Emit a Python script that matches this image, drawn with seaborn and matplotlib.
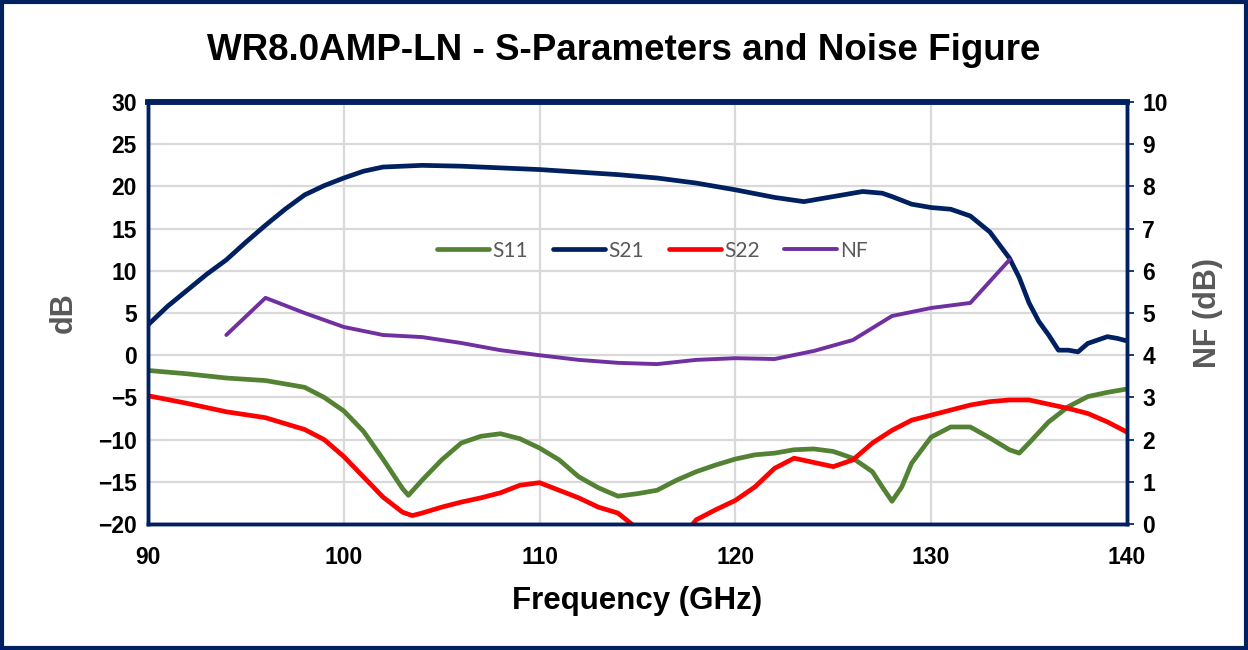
import numpy as np
import pandas as pd
import matplotlib
matplotlib.use("Agg")
import matplotlib.pyplot as plt
import seaborn as sns

# S-parameter curves (GHz, dB)
freq_s21 = [90, 91, 92, 93, 94, 95, 96, 97, 98, 99, 100, 101, 102, 103, 104, 106, 108, 110,
            112, 114, 116, 118, 120, 122, 123.5, 125, 126.5, 127.5, 128, 129, 130, 131, 132,
            133, 134, 134.5, 135, 135.5, 136, 136.5, 137, 137.5, 138, 138.5, 139, 139.5, 140]
s21 = [3.6, 5.8, 7.7, 9.6, 11.3, 13.4, 15.4, 17.3, 19.0, 20.1, 21.0, 21.8, 22.3, 22.4, 22.5,
       22.4, 22.2, 22.0, 21.7, 21.4, 21.0, 20.4, 19.6, 18.7, 18.2, 18.8, 19.4, 19.2, 18.8,
       17.9, 17.5, 17.3, 16.5, 14.6, 11.5, 9.2, 6.2, 4.0, 2.4, 0.6, 0.6, 0.4, 1.4, 1.8, 2.2,
       2.0, 1.7]

freq_s11 = [90, 92, 94, 96, 98, 99, 100, 101, 102, 103, 103.3, 104, 105, 106, 107, 108, 109,
            110, 111, 112, 113, 114, 115, 116, 117, 118, 119, 120, 121, 122, 123, 124, 125,
            126, 127, 127.5, 128, 128.5, 129, 130, 131, 132, 133, 134, 134.5, 135, 136, 137,
            138, 139, 140]
s11 = [-1.8, -2.2, -2.7, -3.0, -3.8, -5.0, -6.6, -9.0, -12.3, -15.8, -16.6, -14.8, -12.4,
       -10.4, -9.6, -9.3, -9.9, -11.0, -12.4, -14.4, -15.7, -16.7, -16.4, -16.0, -14.8,
       -13.8, -13.0, -12.3, -11.8, -11.6, -11.2, -11.1, -11.4, -12.2, -13.8, -15.6, -17.3,
       -15.6, -12.8, -9.7, -8.5, -8.5, -9.8, -11.2, -11.6, -10.4, -7.9, -6.1, -4.9, -4.4,
       -4.0]

freq_s22 = [90, 92, 94, 96, 98, 99, 100, 101, 102, 103, 103.5, 104, 105, 106, 107, 108, 109,
            110, 111, 112, 113, 114, 114.7, 115.5, 116.5, 117.3, 118, 119, 120, 121, 122,
            123, 124, 125, 126, 127, 128, 129, 130, 131, 132, 133, 134, 135, 136, 137, 138,
            139, 140]
s22 = [-4.8, -5.7, -6.7, -7.4, -8.8, -10.0, -12.0, -14.4, -16.8, -18.6, -19.0, -18.7,
       -18.0, -17.4, -16.9, -16.3, -15.4, -15.1, -16.0, -16.9, -18.0, -18.7, -20.0, -22.0,
       -22.5, -21.5, -19.5, -18.3, -17.2, -15.6, -13.4, -12.2, -12.7, -13.2, -12.4, -10.4,
       -8.9, -7.7, -7.1, -6.5, -5.9, -5.5, -5.3, -5.3, -5.8, -6.3, -6.9, -7.9, -9.1]

# noise figure (GHz, dB) on right axis
freq_nf = [94, 96, 98, 100, 102, 104, 106, 108, 110, 112, 114, 116, 118, 120, 122, 124, 126,
           128, 130, 132, 134]
nf = [4.48, 5.36, 5.0, 4.67, 4.48, 4.43, 4.29, 4.12, 4.0, 3.89, 3.82, 3.79, 3.89, 3.93,
      3.91, 4.1, 4.36, 4.93, 5.12, 5.24, 6.26]

x_ticks = [90, 100, 110, 120, 130, 140]
db_ticks = [-20, -15, -10, -5, 0, 5, 10, 15, 20, 25, 30]
nf_ticks = list(range(0, 11))

navy = "#002060"
green = "#548235"
red = "#ff0000"
purple = "#7030a0"
grid_c = "#d9d9d9"
label_gray = "#595959"

sns.set_theme(style="white")
plt.rcParams["font.family"] = ["Liberation Sans", "DejaVu Sans"]

fig = plt.figure(figsize=(12.48, 6.5), dpi=100)
ax = fig.add_axes([0.1186, 0.1938, 0.7844, 0.6492])
ax2 = ax.twinx()

ax.set_xlim(90, 140)
ax.set_ylim(-20, 30)
ax2.set_ylim(0, 10)
ax.set_xticks(x_ticks)
ax.set_yticks(db_ticks)
ax2.set_yticks(nf_ticks)

ax.grid(True, color=grid_c, linewidth=1.6)
ax.set_axisbelow(True)

sns.lineplot(x=freq_s11, y=s11, ax=ax, color=green, linewidth=3.4, label="S11", legend=False)
sns.lineplot(x=freq_s21, y=s21, ax=ax, color=navy, linewidth=3.4, label="S21", legend=False)
sns.lineplot(x=freq_s22, y=s22, ax=ax, color=red, linewidth=3.4, label="S22", legend=False)
sns.lineplot(x=freq_nf, y=nf, ax=ax2, color=purple, linewidth=2.8, label="NF", legend=False)

for a in (ax, ax2):
    for sp in a.spines.values():
        sp.set_color(navy)
        sp.set_linewidth(2.5)
    a.spines["top"].set_linewidth(4)

ax.tick_params(axis="both", length=0, labelsize=16.5, pad=8)
ax.tick_params(axis="x", pad=16)
ax2.tick_params(axis="y", length=5, color=navy, labelsize=16.5, pad=6)
for lab in ax.get_xticklabels() + ax.get_yticklabels() + ax2.get_yticklabels():
    lab.set_fontweight("bold")
    lab.set_color("black")

ax.set_xlabel("Frequency (GHz)", fontsize=22.5, fontweight="bold", color="black", labelpad=12)
ax.set_ylabel("dB", fontsize=22, fontweight="bold", color=label_gray, labelpad=14)
ax2.set_ylabel("NF (dB)", fontsize=22, fontweight="bold", color=label_gray, labelpad=18)

fig.suptitle("WR8.0AMP-LN - S-Parameters and Noise Figure", fontsize=26.5, fontweight="bold",
             color="black", y=0.95)

h1, l1 = ax.get_legend_handles_labels()
h2, l2 = ax2.get_legend_handles_labels()
ax2.legend(h1 + h2, l1 + l2, loc="center", bbox_to_anchor=(0.515, 0.648), ncol=4,
           frameon=False, handlelength=2.5, columnspacing=1.2, handletextpad=0.15,
           prop={"family": "Lato", "size": 15}, labelcolor=label_gray)

# outer navy frame
fig.patches.append(plt.Rectangle((0.002, 0.003), 0.996, 0.994, transform=fig.transFigure,
                                 fill=False, edgecolor=navy, linewidth=3))

fig.savefig("out.png", dpi=100)
